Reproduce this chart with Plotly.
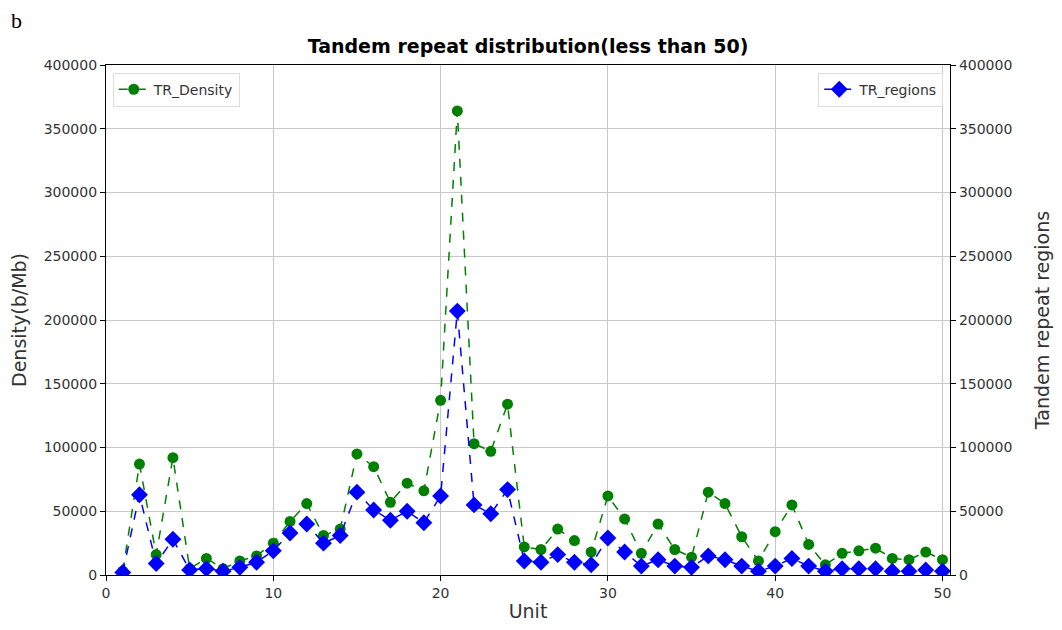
import plotly.graph_objects as go

units = list(range(1, 51))
tr_density = [3000, 87000, 16000, 92000, 5000, 13000, 5000, 11000, 15000, 25000,
              42000, 56000, 31000, 36000, 95000, 85000, 57000, 72000, 66000, 137000,
              364000, 103000, 97000, 134000, 22000, 20000, 36000, 27000, 18000, 62000,
              44000, 17000, 40000, 20000, 14000, 65000, 56000, 30000, 11000, 34000,
              55000, 24000, 8000, 17000, 19000, 21000, 13000, 12000, 18000, 12000]
tr_regions = [2000, 63000, 9000, 28000, 4000, 5000, 3000, 6000, 10000, 19000,
              33000, 40000, 25000, 31000, 65000, 51000, 43000, 50000, 41000, 62000,
              207000, 55000, 48000, 67000, 11000, 10000, 16000, 10000, 8000, 29000,
              18000, 7000, 12000, 7000, 6000, 15000, 12000, 7000, 3000, 7000,
              13000, 7000, 3000, 5000, 5000, 5000, 3000, 3000, 4000, 3000]
y_ticks = [0, 50000, 100000, 150000, 200000, 250000, 300000, 350000, 400000]
x_ticks = [0, 10, 20, 30, 40, 50]

FONT = "DejaVu Sans"
TXT = "#333333"

fig = go.Figure()
fig.add_trace(go.Scatter(
    x=units, y=tr_density, name="TR_Density", mode="lines+markers",
    line=dict(color="green", dash="dash", width=1.5),
    marker=dict(symbol="circle", size=11, color="green"),
    legend="legend", yaxis="y", showlegend=True))
fig.add_trace(go.Scatter(
    x=units, y=tr_regions, name="TR_regions", mode="lines+markers",
    line=dict(color="blue", dash="dash", width=1.5),
    marker=dict(symbol="diamond", size=13, color="blue"),
    legend="legend2", yaxis="y2", showlegend=True))

def axis_common():
    return dict(
        showline=True, linecolor="black", linewidth=1.2,
        ticks="outside", ticklen=5, tickcolor="black",
        tickfont=dict(family=FONT, size=14, color=TXT),
        zeroline=False,
    )

fig.update_layout(
    width=1062, height=630,
    margin=dict(l=106, r=110, t=65, b=55),
    paper_bgcolor="white", plot_bgcolor="white",
    font=dict(family=FONT, color="black"),
    showlegend=True,
    title=dict(text="<b>Tandem repeat distribution(less than 50)</b>",
               x=0.5, xanchor="center", xref="paper", y=0.927, yanchor="middle",
               font=dict(family=FONT, size=19, color="black")),
    xaxis=dict(range=[0, 50.45], tickvals=x_ticks, showgrid=True,
               gridcolor="#c8c8c8", gridwidth=1, mirror=True,
               title=dict(text="Unit", font=dict(family=FONT, size=19, color=TXT), standoff=4),
               **axis_common()),
    yaxis=dict(range=[0, 400000], tickvals=y_ticks, tickformat="d", showgrid=True,
               gridcolor="#c8c8c8", gridwidth=1,
               title=dict(text="Density(b/Mb)", font=dict(family=FONT, size=19, color=TXT), standoff=11),
               **axis_common()),
    yaxis2=dict(range=[0, 400000], tickvals=y_ticks, tickformat="d", overlaying="y", side="right",
                showgrid=False,
                title=dict(text="Tandem repeat regions", font=dict(family=FONT, size=19, color=TXT), standoff=24),
                **axis_common()),
    legend=dict(x=0.008, y=0.985, xanchor="left", yanchor="top",
                bgcolor="rgba(255,255,255,0.8)", bordercolor="#dddddd", borderwidth=1,
                font=dict(family=FONT, size=14, color=TXT)),
    legend2=dict(x=0.992, y=0.985, xanchor="right", yanchor="top",
                 bgcolor="rgba(255,255,255,0.8)", bordercolor="#dddddd", borderwidth=1,
                 font=dict(family=FONT, size=14, color=TXT)),
)
fig.add_annotation(text="b", xref="paper", yref="paper",
                   x=(16 - 106) / 846, y=1 + (65 - 20) / 510,
                   xanchor="center", yanchor="middle", showarrow=False,
                   font=dict(family="Liberation Serif", size=22, color="black"))

fig.write_html("out.html")
